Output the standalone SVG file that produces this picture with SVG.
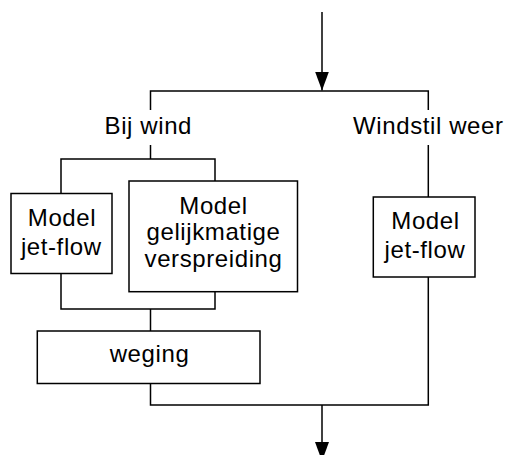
<svg xmlns="http://www.w3.org/2000/svg" width="508" height="455" viewBox="0 0 508 455">
  <style>
    .box { fill: #ffffff; stroke: #000000; stroke-width: 1.5; }
    .wire { fill: none; stroke: #000000; stroke-width: 1.5; }
    .lbl { font-family: "Liberation Sans", Arial, Helvetica, sans-serif; font-size: 24px; letter-spacing: 0.6px; fill: #000000; text-anchor: middle; }
  </style>
  <defs>
    <marker id="arrow" viewBox="0 0 19 14" refX="19" refY="7" markerWidth="19" markerHeight="14" markerUnits="userSpaceOnUse" orient="auto">
      <path d="M0,0 L19,7 L0,14 Z" fill="#000000"/>
    </marker>
  </defs>

  <rect x="0" y="0" width="508" height="455" fill="#ffffff"/>

  <!-- connectors -->
  <g id="connectors">
    <line class="wire" x1="322" y1="12" x2="322" y2="90.5" marker-end="url(#arrow)"/>
    <polyline class="wire" points="150.5,110 150.5,91 428.3,91 428.3,110"/>
    <polyline class="wire" points="150.5,145 150.5,159"/>
    <polyline class="wire" points="61,193.5 61,159 215,159 215,181"/>
    <polyline class="wire" points="428.3,145 428.3,197"/>
    <polyline class="wire" points="61,273.5 61,309 215,309 215,291.7"/>
    <line class="wire" x1="150.5" y1="309" x2="150.5" y2="331"/>
    <polyline class="wire" points="150.5,383.5 150.5,405 428.3,405 428.3,277"/>
    <line class="wire" x1="322" y1="405" x2="322" y2="461" marker-end="url(#arrow)"/>
  </g>

  <!-- branch labels -->
  <g id="label-wind">
    <text class="lbl" x="148.3" y="134">Bij wind</text>
  </g>
  <g id="label-windstil">
    <text class="lbl" x="428.3" y="134.3">Windstil weer</text>
  </g>

  <!-- nodes -->
  <g id="jetflow-wind">
    <rect class="box" x="11" y="193.5" width="101" height="80"/>
    <text class="lbl" x="62" y="226">Model</text>
    <text class="lbl" x="61.3" y="255">jet-flow</text>
  </g>
  <g id="gelijkmatig">
    <rect class="box" x="129" y="181" width="168.5" height="110.7"/>
    <text class="lbl" x="213.5" y="214">Model</text>
    <text class="lbl" x="213.5" y="240">gelijkmatige</text>
    <text class="lbl" x="213.5" y="266.5">verspreiding</text>
  </g>
  <g id="jetflow-windstil">
    <rect class="box" x="373.3" y="197" width="101.7" height="80"/>
    <text class="lbl" x="425.5" y="229.3">Model</text>
    <text class="lbl" x="425" y="257.7">jet-flow</text>
  </g>
  <g id="weging">
    <rect class="box" x="37.3" y="331" width="222.7" height="52.5"/>
    <text class="lbl" x="149.5" y="362.3">weging</text>
  </g>
</svg>
